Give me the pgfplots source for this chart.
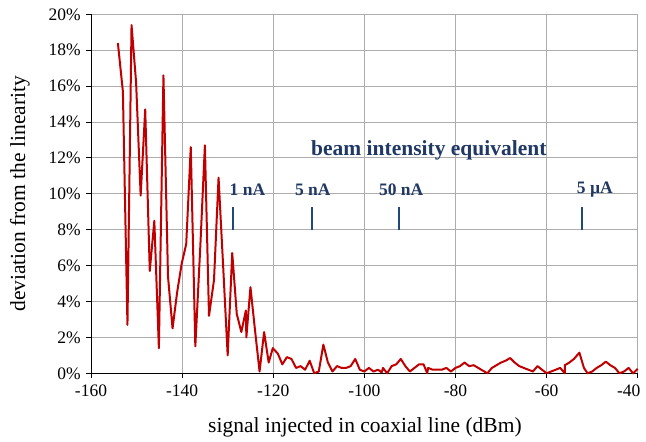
\documentclass[border=0pt]{standalone}
\usepackage{pgfplots}
\pgfplotsset{compat=1.18}
\usepackage{fontspec}
\setmainfont{Liberation Serif}
\definecolor{serred}{HTML}{C00000}
\definecolor{navy}{HTML}{1F3864}
\definecolor{tickblue}{HTML}{1F497D}
\definecolor{gridgray}{HTML}{ADADAD}
\begin{document}
\begin{tikzpicture}
\useasboundingbox (-91bp,-68.7bp) rectangle (555bp,373.3bp);
\begin{axis}[
  at={(0,0)}, anchor=south west,
  scale only axis,
  width=546.7bp, height=359bp,
  xmin=-160, xmax=-40, ymin=0, ymax=20,
  xtick={-160,-140,...,-40},
  xticklabels={-160,-140,-120,-100,-80,-60,{\hspace*{-18bp}-40}},
  ytick={0,2,...,20},
  yticklabel={\pgfmathprintnumber{\tick}\%},
  /pgf/number format/assume math mode=true,
  axis x line=bottom, axis y line=left,
  axis line style={-, black, line width=0.9bp},
  grid=major,
  major grid style={gridgray, line width=0.8bp},
  tick align=outside,
  major tick length=4.7bp,
  tick style={black, line width=0.8bp},
  ticklabel style={font=\fontsize{17.5bp}{21bp}\selectfont},
  xticklabel style={yshift=-3bp},
  yticklabel style={xshift=-2bp},
  label style={font=\fontsize{21.5bp}{25bp}\selectfont},
  xlabel={signal injected in coaxial line (dBm)},
  ylabel={deviation from the linearity},
  xlabel style={at={(axis description cs:0.501,-0.15)}, anchor=center},
  ylabel style={at={(axis description cs:-0.1299,0.5)}, anchor=center, rotate=0},
  clip=false,
]
\addplot[serred, line width=2bp, line join=round] coordinates {
(-154.1,18.4) (-153.0,15.7) (-152.0,2.7) (-151.1,19.4) (-150.1,16.2)
(-149.1,9.9) (-148.1,14.7) (-147.1,5.7) (-146.1,8.5) (-145.1,1.4)
(-144.1,16.6) (-143.1,5.4) (-142.1,2.5) (-141.1,4.5) (-140.1,6.1)
(-139.1,7.2) (-138.1,12.6) (-137.1,1.5) (-136.0,7.1) (-135.0,12.7)
(-134.1,3.2) (-133.0,5.2) (-132.0,10.9) (-131.0,6.0) (-130.0,1.0)
(-129.0,6.7) (-128.0,3.3) (-127.0,2.3) (-126.0,3.5) (-125.9,2.0)
(-125.0,4.8) (-124.0,2.4) (-123.0,0.1) (-122.0,2.3) (-121.0,0.6)
(-120.1,1.4) (-119.0,1.1) (-118.0,0.5) (-117.0,0.9) (-116.0,0.8)
(-115.0,0.3) (-114.0,0.4) (-113.0,0.2) (-112.0,0.7) (-111.0,0.0)
(-110.0,0.1) (-109.0,1.6) (-108.0,0.6) (-107.0,0.1) (-106.0,0.4)
(-105.0,0.3) (-104.0,0.3) (-103.0,0.4) (-102.0,0.8) (-101.0,0.2)
(-100.0,0.1) (-99.0,0.3) (-98.0,0.1) (-97.0,0.2) (-96.2,0.05)
(-95.9,0.3) (-95.0,0.0) (-94.0,0.4) (-93.0,0.5) (-92.0,0.8)
(-91.0,0.4) (-90.0,0.1) (-89.0,0.3) (-88.0,0.5) (-87.0,0.5)
(-86.2,0.0) (-86.0,0.3) (-85.0,0.2) (-84.0,0.2) (-83.0,0.2)
(-82.0,0.3) (-81.0,0.1) (-80.0,0.3) (-79.0,0.4) (-78.0,0.6)
(-77.0,0.4) (-76.0,0.45) (-75.0,0.3) (-74.0,0.15) (-73.0,0.0)
(-72.0,0.3) (-71.0,0.45) (-70.0,0.6) (-69.0,0.7) (-68.0,0.85)
(-67.0,0.6) (-66.0,0.4) (-65.0,0.3) (-64.0,0.2) (-63.0,0.1)
(-62.0,0.4) (-61.0,0.2) (-60.0,0.0) (-59.0,0.1) (-58.0,0.2)
(-57.0,0.3) (-56.0,0.0) (-56.0,0.45) (-55.0,0.6) (-54.0,0.8)
(-52.8,1.15) (-51.8,0.3) (-51.0,0.0) (-50.0,0.1) (-49.0,0.3)
(-48.0,0.45) (-47.0,0.65) (-46.0,0.45) (-45.0,0.3) (-44.0,0.0)
(-43.0,0.1) (-42.0,0.3) (-41.0,0.0) (-40.0,0.25)
};
\addplot[tickblue, line width=2.2bp, unbounded coords=jump] coordinates {
(-128.76,7.98) (-128.76,9.25) (-128.76,nan)
(-111.42,7.98) (-111.42,9.25) (-111.42,nan)
(-92.32,7.98) (-92.32,9.25) (-92.32,nan)
(-52.15,7.98) (-52.15,9.25)
};
\node[navy, font=\fontsize{21.5bp}{25bp}\selectfont\bfseries] at (axis cs:-85.85,12.40) {beam intensity equivalent};
\node[navy, font=\fontsize{17.5bp}{21bp}\selectfont\bfseries] at (axis cs:-125.65,10.21) {1 nA};
\node[navy, font=\fontsize{17.5bp}{21bp}\selectfont\bfseries] at (axis cs:-111.3,10.21) {5 nA};
\node[navy, font=\fontsize{17.5bp}{21bp}\selectfont\bfseries] at (axis cs:-91.9,10.21) {50 nA};
\node[navy, font=\fontsize{17.5bp}{21bp}\selectfont\bfseries] at (axis cs:-49.4,10.21) {5 µA};
\end{axis}
\end{tikzpicture}
\end{document}
